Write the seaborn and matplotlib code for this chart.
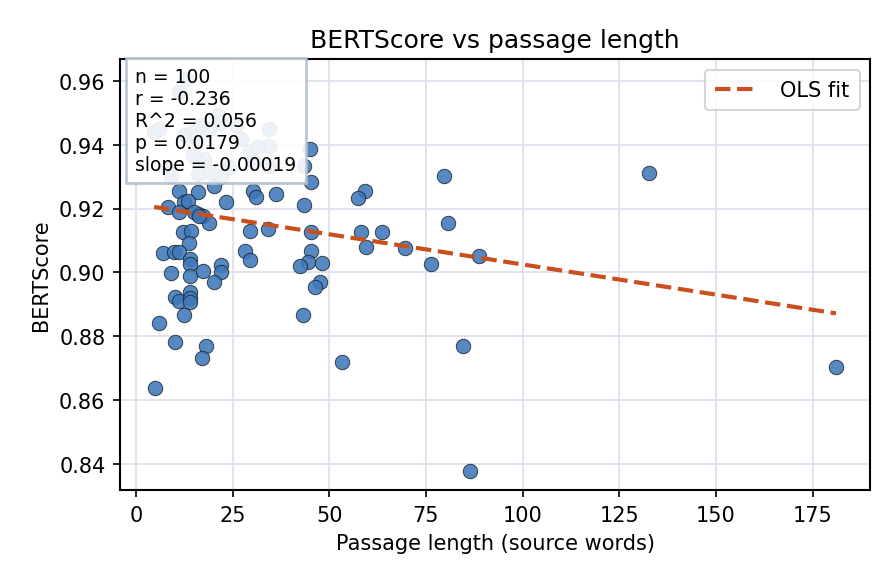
import numpy as np
import pandas as pd
import matplotlib
matplotlib.use("Agg")
import matplotlib.pyplot as plt
import seaborn as sns

passage_len = [
    44.9, 43.4, 45.3, 59.1, 57.4, 11.2, 16.0, 20.2, 22.0, 30.2,
    31.1, 36.3, 43.4, 23.3, 12.5, 8.2, 11.2, 13.4, 16.0, 17.3,
    15.1, 19.0, 29.4, 34.1, 45.3, 58.3, 12.1, 14.2, 13.8, 59.4,
    63.7, 6.9, 9.9, 11.2, 14.0, 14.0, 9.1, 14.0, 17.3, 22.0,
    22.0, 20.3, 28.2, 29.4, 45.3, 44.5, 48.2, 42.3, 47.5, 46.4,
    43.3, 53.4, 10.2, 11.2, 14.0, 14.0, 14.0, 12.3, 6.0, 10.2,
    18.2, 17.2, 5.0, 79.6, 80.7, 69.5, 76.4, 88.7, 84.5, 86.3,
    132.6, 181.0, 16.4,
    12.9, 11.1, 4.7, 14.7, 15.5, 21.2, 22.0, 29.4, 30.6, 34.3,
    34.3, 27.2, 17.7, 16.0, 9.1, 8.2, 16.0, 19.4, 14.7, 19.0,
    25.9, 31.5, 16.8, 34.5, 12.5, 6.0, 24.0,
]
bertscore = [
    0.9387, 0.9334, 0.9282, 0.9256, 0.9232, 0.9256, 0.9251, 0.9272, 0.9298, 0.9256,
    0.9235, 0.9246, 0.9211, 0.9219, 0.9219, 0.9204, 0.9188, 0.9224, 0.9183, 0.9178,
    0.9188, 0.9155, 0.9130, 0.9136, 0.9125, 0.9125, 0.9125, 0.9130, 0.9092, 0.9081,
    0.9125, 0.9062, 0.9064, 0.9064, 0.9041, 0.9026, 0.8997, 0.8989, 0.9003, 0.9023,
    0.9002, 0.8971, 0.9067, 0.9038, 0.9067, 0.9034, 0.9029, 0.9019, 0.8970, 0.8954,
    0.8868, 0.8720, 0.8924, 0.8911, 0.8939, 0.8919, 0.8906, 0.8868, 0.8843, 0.8783,
    0.8771, 0.8733, 0.8639, 0.9301, 0.9154, 0.9078, 0.9025, 0.9050, 0.8770, 0.8380,
    0.9312, 0.8703, 0.9177,
    0.9606, 0.9565, 0.9439, 0.9440, 0.9420, 0.9494, 0.9468, 0.9381, 0.9345, 0.9450,
    0.9397, 0.9418, 0.9355, 0.9345, 0.9303, 0.9324, 0.9308, 0.9313, 0.9366, 0.9450,
    0.9461, 0.9392, 0.9460, 0.9334, 0.9430, 0.9450, 0.9330,
]
stats_lines = ["n = 100", "r = -0.236", "R^2 = 0.056", "p = 0.0179", "slope = -0.00019"]
x_ticks = [0, 25, 50, 75, 100, 125, 150, 175]
y_ticks = [0.84, 0.86, 0.88, 0.90, 0.92, 0.94, 0.96]

df = pd.DataFrame({"len": passage_len, "score": bertscore})

sns.set_theme(style="whitegrid", rc={
    "text.color": "black", "axes.labelcolor": "black",
    "xtick.color": "black", "ytick.color": "black",
})
plt.rcParams["font.family"] = ["DejaVu Sans"]

fig, ax = plt.subplots(figsize=(5.973, 3.893), dpi=150)
fig.subplots_adjust(left=0.134, right=0.971, top=0.897, bottom=0.159)

sns.scatterplot(data=df, x="len", y="score", ax=ax, s=48, color="#3f78ba",
                alpha=0.88, edgecolor="#1c2733", linewidth=0.45, zorder=3)

slope, intercept = np.polyfit(df["len"], df["score"], 1)
xs = np.array([df["len"].min(), df["len"].max()])
ax.plot(xs, intercept + slope * xs, ls="--", color="#c9501c", lw=2.0,
        label="OLS fit", zorder=4)

ax.set_xticks(x_ticks)
ax.set_yticks(y_ticks)
ax.set_yticklabels([f"{v:.2f}" for v in y_ticks])
ax.tick_params(axis="both", labelsize=10, length=3.5, width=0.8, color="black",
               bottom=True, left=True, direction="out")
ax.grid(True, color="#dde3ec", lw=0.9)
for sp in ax.spines.values():
    sp.set_color("black")
    sp.set_linewidth(1.0)

ax.set_title("BERTScore vs passage length", fontsize=12)
ax.set_xlabel("Passage length (source words)", fontsize=10)
ax.set_ylabel("BERTScore", fontsize=10)

ax.text(0.02, 0.982, "\n".join(stats_lines), transform=ax.transAxes,
        fontsize=9, va="top", ha="left", zorder=6, linespacing=1.2,
        bbox=dict(boxstyle="square,pad=0.5", facecolor="white", alpha=0.9,
                  edgecolor="#b4c0ce", linewidth=1.3))

leg = ax.legend(loc="upper right", fontsize=10, frameon=True,
                handlelength=2.0, handletextpad=1.1, borderpad=0.5)
leg.get_frame().set_edgecolor("#cccccc")

fig.savefig("out.png", dpi=150)
